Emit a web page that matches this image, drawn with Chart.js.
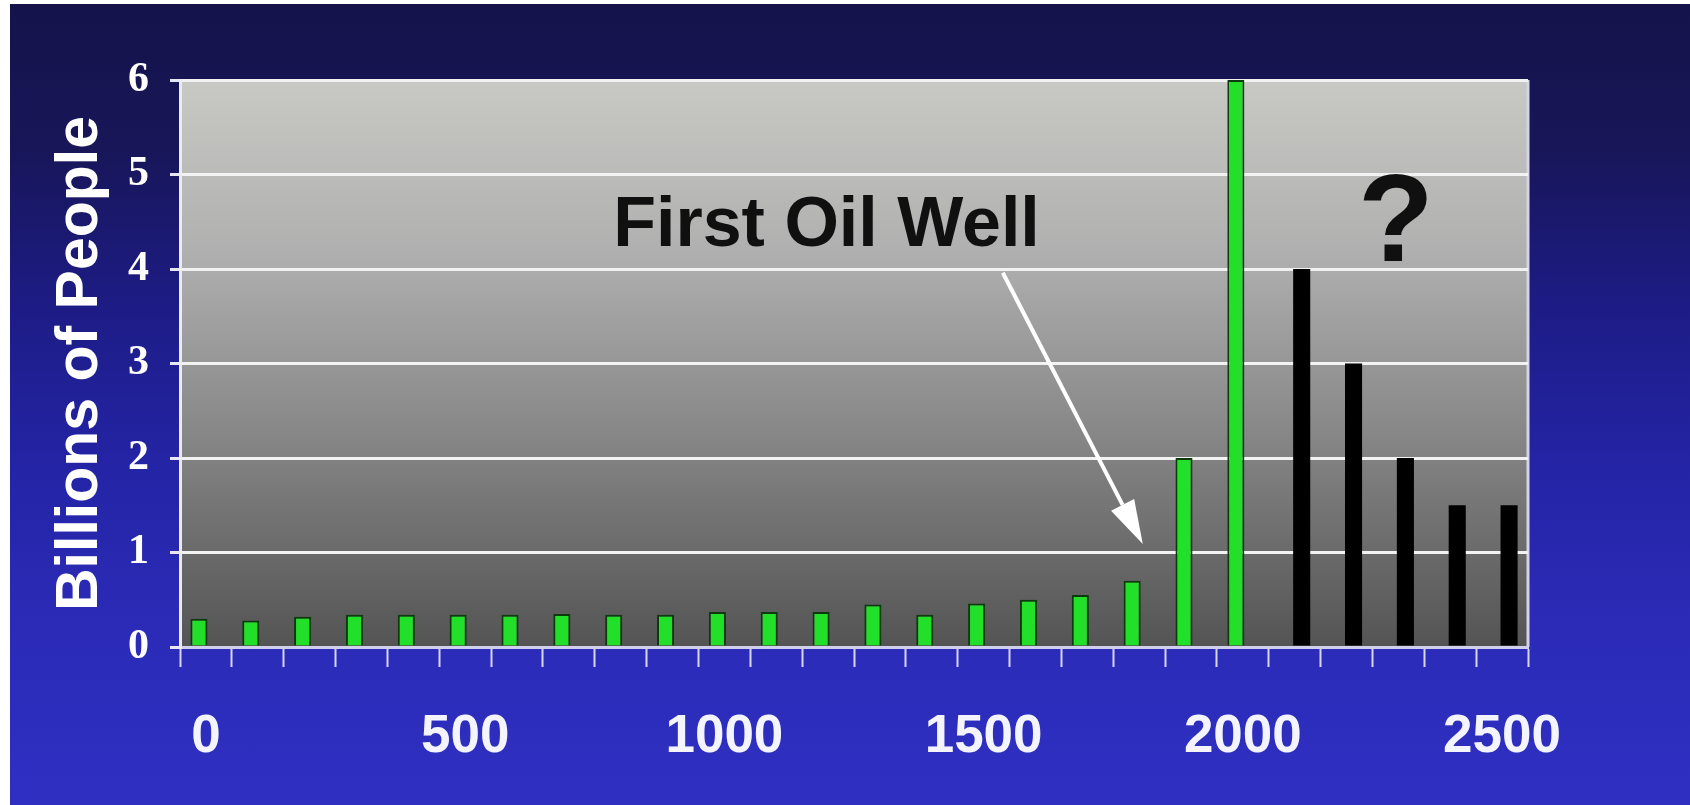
<!DOCTYPE html>
<html>
<head>
<meta charset="utf-8">
<script src="https://cdn.jsdelivr.net/npm/chart.js@4.4.1/dist/chart.umd.min.js"></script>
<style>
  html, body { margin: 0; padding: 0; background: #ffffff; width: 1690px; height: 805px; overflow: hidden; }
  #bg {
    position: absolute; left: 10px; top: 4px; right: 0; bottom: 0;
    background: linear-gradient(to bottom, #15134a 0%, #181658 18%, #1d1c86 38%, #2424a6 58%, #2b2bb8 78%, #2f2fc2 100%);
  }
  #c { position: absolute; left: 0; top: 0; }
</style>
</head>
<body>
<div id="bg"></div>
<canvas id="c" width="1690" height="805"></canvas>
<script>
// ---- Data ----
const years = ['0','100','200','300','400','500','600','700','800','900','1000','1100','1200','1300','1400','1500','1600','1700','1800','1900','2000','2100','2200','2300','2400','2500'];
const historical = [0.3,0.28,0.32,0.34,0.34,0.34,0.34,0.35,0.34,0.34,0.37,0.37,0.37,0.45,0.34,0.46,0.5,0.55,0.7,2.0,6.0]; // 0 .. 2000
const projected = [4.0,3.0,2.0,1.5,1.5]; // 2100 .. 2500
const xTickLabels = ['0','500','1000','1500','2000','2500'];
const yTickValues = [0,1,2,3,4,5,6];
const yTitle = 'Billions of People';
const oilWellLabel = 'First Oil Well';
const questionLabel = '?';
// annotation anchors in data units (category index, value)
const oilTextAt = [11.97, 4.45];
const arrowFrom = [15.37, 3.96];
const arrowTo = [18.07, 1.09];
const questionAt = [22.95, 4.45];

const nHist = historical.length;
const histData = years.map((y, i) => i < nHist ? historical[i] : null);
const projData = years.map((y, i) => i >= nHist ? projected[i - nHist] : null);

// pick a condensed face for the x labels if one is installed
function hasFont(name) {
  const c = document.createElement('canvas').getContext('2d');
  c.font = 'bold 58px monospace';
  const a = c.measureText('2500 Wl').width;
  c.font = 'bold 58px "' + name + '", monospace';
  return Math.abs(c.measureText('2500 Wl').width - a) > 0.5;
}
const narrow = hasFont('Liberation Sans Narrow');
const xFont = narrow
  ? { family: '"Liberation Sans Narrow", "Liberation Sans", Arial, sans-serif', size: 59, weight: 'bold' }
  : { family: '"Liberation Sans", Arial, sans-serif', size: 53, weight: 'bold' };
const xPad = narrow ? 35 : 39;

const plotBg = {
  id: 'plotBg',
  beforeDraw(chart) {
    const {ctx, chartArea: a} = chart;
    const g = ctx.createLinearGradient(0, a.top, 0, a.bottom);
    g.addColorStop(0, '#c8c8c4');
    g.addColorStop(0.3, '#b0b0b0');
    g.addColorStop(0.6, '#8a8a8a');
    g.addColorStop(0.85, '#686868');
    g.addColorStop(1, '#545454');
    ctx.save();
    ctx.fillStyle = g;
    ctx.fillRect(a.left, a.top, a.right - a.left, a.bottom - a.top);
    ctx.strokeStyle = '#d4d4e6';
    ctx.lineWidth = 3;
    ctx.beginPath();
    ctx.moveTo(a.right, a.bottom);
    ctx.lineTo(a.right, a.top);
    ctx.stroke();
    ctx.restore();
  }
};

const annotations = {
  id: 'annotations',
  afterDatasetsDraw(chart) {
    const {ctx, scales: {x, y}} = chart;
    const px = p => [x.getPixelForValue(p[0]), y.getPixelForValue(p[1])];
    ctx.save();
    ctx.fillStyle = '#101010';
    ctx.textAlign = 'center';
    ctx.textBaseline = 'middle';
    ctx.font = 'bold 70px "Liberation Sans", Arial, sans-serif';
    const t = px(oilTextAt);
    ctx.fillText(oilWellLabel, t[0], t[1]);
    ctx.font = 'bold 124px "Liberation Sans", Arial, sans-serif';
    const q = px(questionAt);
    ctx.fillText(questionLabel, q[0], q[1]);
    // arrow
    const s = px(arrowFrom), e = px(arrowTo);
    const ang = Math.atan2(e[1] - s[1], e[0] - s[0]);
    const headLen = 44, headW = 13;
    const bx = e[0] - headLen * Math.cos(ang), by = e[1] - headLen * Math.sin(ang);
    ctx.strokeStyle = '#ffffff';
    ctx.fillStyle = '#ffffff';
    ctx.lineWidth = 4;
    ctx.beginPath();
    ctx.moveTo(s[0], s[1]);
    ctx.lineTo(bx, by);
    ctx.stroke();
    ctx.beginPath();
    ctx.moveTo(e[0], e[1]);
    ctx.lineTo(bx + headW * Math.sin(ang), by - headW * Math.cos(ang));
    ctx.lineTo(bx - headW * Math.sin(ang), by + headW * Math.cos(ang));
    ctx.closePath();
    ctx.fill();
    ctx.restore();
  }
};

new Chart(document.getElementById('c'), {
  type: 'bar',
  data: {
    labels: years,
    datasets: [
      { label: 'Historical', data: histData, backgroundColor: '#22e02a', borderColor: '#0c3a0c', borderWidth: 2, borderSkipped: 'bottom' },
      { label: 'Projected', data: projData, backgroundColor: '#000000', borderWidth: 0 }
    ]
  },
  options: {
    responsive: false,
    devicePixelRatio: 1,
    animation: false,
    events: [],
    datasets: { bar: { grouped: true, skipNull: false, barPercentage: 1.22, categoryPercentage: 0.54 } },
    layout: { padding: { left: 45, top: 80, right: 162, bottom: 20 } },
    plugins: { legend: { display: false }, tooltip: { enabled: false } },
    scales: {
      x: {
        type: 'category',
        offset: true,
        afterFit(s) { s.height = 138; },
        grid: { display: true, offset: true, drawOnChartArea: false, drawTicks: true, tickLength: 20, tickWidth: 2, tickColor: '#d6d6f4', color: '#d6d6f4' },
        border: { display: true, color: '#d0d0ec', width: 3 },
        ticks: {
          autoSkip: false, maxRotation: 0, minRotation: 0, padding: xPad,
          color: '#f4f4ff',
          font: xFont,
          callback(v, i) { return xTickLabels.includes(years[i]) ? years[i] : ''; }
        }
      },
      y: {
        min: 0, max: 6,
        afterFit(s) { s.width = 135; },
        afterBuildTicks(s) { s.ticks = yTickValues.map(v => ({ value: v })); },
        grid: { color: '#f2f2f2', lineWidth: 3, tickLength: 10, tickColor: '#e6e6f4', drawTicks: true },
        border: { display: true, color: '#ececf6', width: 3 },
        ticks: {
          padding: 21, color: '#ffffff',
          font: { family: '"Liberation Serif", "Times New Roman", serif', size: 42, weight: 'bold' }
        },
        title: {
          display: true, text: yTitle, color: '#ffffff', padding: { top: 0, bottom: 0 },
          font: { family: '"Liberation Sans", Arial, sans-serif', size: 59, weight: 'bold' }
        }
      }
    }
  },
  plugins: [plotBg, annotations]
});
</script>
</body>
</html>
